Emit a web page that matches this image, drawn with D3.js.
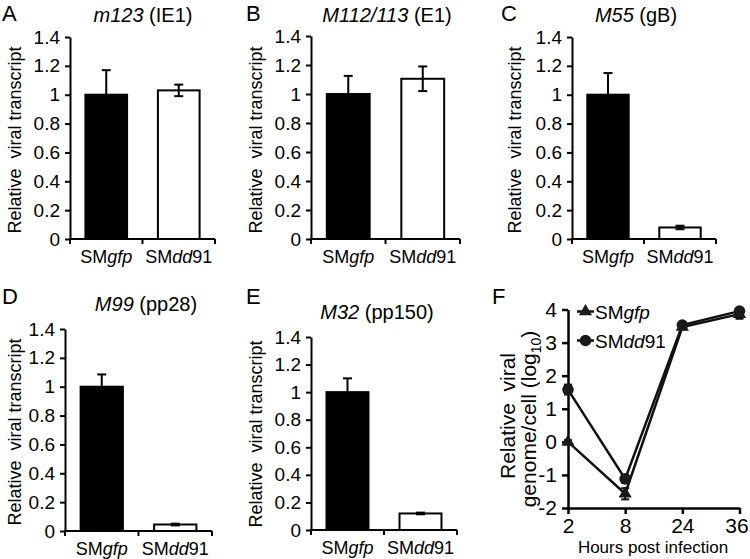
<!DOCTYPE html>
<html><head><meta charset="utf-8">
<script src="https://cdn.jsdelivr.net/npm/d3@7"></script>
<style>
body{margin:0;background:#fff}
svg{display:block;background:#fff}
text{font-family:"Liberation Sans", Arial, Helvetica, sans-serif;fill:#000}
</style>
</head><body>
<svg id="chart" width="750" height="559"></svg>
<script>
// ---------- data ----------
const categories = ["SMgfp", "SMdd91"];
const yTickValues = [0, 0.2, 0.4, 0.6, 0.8, 1, 1.2, 1.4];
const yTickLabels = ["0", "0.2", "0.4", "0.6", "0.8", "1", "1.2", "1.4"];
const panelLetters = ["A", "B", "C", "D", "E", "F"];
const geneNames = ["m123", "M112/113", "M55", "M99", "M32"];
const proteinNames = ["(IE1)", "(E1)", "(gB)", "(pp28)", "(pp150)"];
const meanA = [1.00, 1.03];  const errA = [0.17, 0.04];
const meanB = [1.00, 1.105]; const errB = [0.125, 0.085];
const meanC = [1.00, 0.08];  const errC = [0.15, 0.012];
const meanD = [1.00, 0.045]; const errD = [0.085, 0.006];
const meanE = [1.00, 0.12];  const errE = [0.10, 0.006];
const hours = ["2", "8", "24", "36"];
const genomeTicks = [-2, -1, 0, 1, 2, 3, 4];
const gfpGenome = [0.0, -1.57, 3.47, 3.86];
const gfpErr = [0.05, 0.17, 0.06, 0.14];
const dd91Genome = [1.58, -1.12, 3.53, 3.95];
const dd91Err = [0.15, 0.12, 0.05, 0.07];

// ---------- layout ----------
const barPanels = [
  {mean: meanA, err: errA, x0: 70,  x1: 215, yTop: 37,  yBot: 239, title: [143, 22], letter: [2, 21],   ylab: [21, 140]},
  {mean: meanB, err: errB, x0: 311, x1: 460, yTop: 36,  yBot: 239, title: [387, 22], letter: [246, 21], ylab: [262, 140]},
  {mean: meanC, err: errC, x0: 572, x1: 716, yTop: 37,  yBot: 239, title: [636, 22], letter: [501, 21], ylab: [521, 140]},
  {mean: meanD, err: errD, x0: 65,  x1: 212, yTop: 329, yBot: 531, title: [146, 311], letter: [2, 304], ylab: [21, 432]},
  {mean: meanE, err: errE, x0: 311, x1: 457, yTop: 337, yBot: 530, title: [377, 319], letter: [246, 304], ylab: [262, 434]}
];

const svg = d3.select("#chart");

function catLabel(sel, name) {
  const m = name.match(/^(SM)([a-z]+)(\d*)$/);
  sel.append("tspan").text(m[1]);
  sel.append("tspan").attr("font-style", "italic").text(m[2]);
  if (m[3]) sel.append("tspan").text(m[3]);
}

barPanels.forEach((p, i) => {
  const g = svg.append("g");
  const x = d3.scaleBand().domain(categories).range([p.x0, p.x1]).padding(0);
  const y = d3.scaleLinear().domain([0, 1.4]).range([p.yBot, p.yTop]);
  const bw = x.bandwidth() * 0.575;

  // bars
  g.selectAll("rect.bar").data(categories).enter().append("rect")
    .attr("x", d => x(d) + (x.bandwidth() - bw) / 2)
    .attr("y", (d, j) => y(p.mean[j]))
    .attr("width", bw)
    .attr("height", (d, j) => y(0) - y(p.mean[j]))
    .attr("fill", (d, j) => j === 0 ? "#000" : "#fff")
    .attr("stroke", "#000").attr("stroke-width", 2);

  // error bars
  categories.forEach((c, j) => {
    const cx = x(c) + x.bandwidth() / 2;
    const lo = y(p.mean[j] - p.err[j]), hi = y(p.mean[j] + p.err[j]);
    g.append("line").attr("x1", cx).attr("x2", cx).attr("y1", lo).attr("y2", hi)
      .attr("stroke", "#000").attr("stroke-width", 2);
    [lo, hi].forEach(yy => g.append("line").attr("x1", cx - 4.5).attr("x2", cx + 4.5)
      .attr("y1", yy).attr("y2", yy).attr("stroke", "#000").attr("stroke-width", 2));
  });

  // y axis
  const ya = g.append("g").attr("transform", `translate(${p.x0},0)`)
    .call(d3.axisLeft(y).tickValues(yTickValues).tickFormat((d, k) => yTickLabels[k]).tickSizeInner(5).tickSizeOuter(0).tickPadding(5));
  ya.select(".domain").attr("stroke-width", 2);
  ya.selectAll(".tick line").attr("stroke-width", 2);
  ya.selectAll(".tick text").attr("font-size", 19).attr("font-family", "Liberation Sans, Arial, sans-serif");

  // x axis (category boundaries)
  g.append("line").attr("x1", p.x0 - 1).attr("x2", p.x1).attr("y1", y(0)).attr("y2", y(0))
    .attr("stroke", "#000").attr("stroke-width", 2);
  const bounds = [x.range()[0], x(categories[1]), x.range()[1]];
  bounds.forEach(b => g.append("line").attr("x1", b).attr("x2", b).attr("y1", y(0)).attr("y2", y(0) + 5)
    .attr("stroke", "#000").attr("stroke-width", 2));
  categories.forEach(c => {
    const t = g.append("text").attr("x", x(c) + x.bandwidth() / 2).attr("y", y(0) + 24)
      .attr("text-anchor", "middle").attr("font-size", 18);
    catLabel(t, c);
  });

  // y label
  g.append("text").attr("transform", `translate(${p.ylab[0]},${p.ylab[1]}) rotate(-90)`)
    .attr("text-anchor", "middle").attr("font-size", 18)
    .style("white-space", "pre").text("Relative  viral transcript");

  // title
  const tt = g.append("text").attr("x", p.title[0]).attr("y", p.title[1]).attr("text-anchor", "middle").attr("font-size", 20);
  tt.append("tspan").attr("font-style", "italic").text(geneNames[i]);
  tt.append("tspan").text(" " + proteinNames[i]);

  // panel letter
  g.append("text").attr("x", p.letter[0]).attr("y", p.letter[1]).attr("font-size", 22).text(panelLetters[i]);
});

// ---------- panel F ----------
(function () {
  const g = svg.append("g");
  const x = d3.scalePoint().domain(hours).range([568, 739.5]);
  const y = d3.scaleLinear().domain([-2, 4]).range([508, 309.5]);

  const ya = g.append("g").attr("transform", "translate(568,0)")
    .call(d3.axisLeft(y).tickValues(genomeTicks).tickFormat(d => String(d)).tickSizeInner(6).tickSizeOuter(0).tickPadding(5));
  ya.select(".domain").attr("stroke-width", 2.5);
  ya.selectAll(".tick line").attr("stroke-width", 2.5);
  ya.selectAll(".tick text").attr("font-size", 21).attr("font-family", "Liberation Sans, Arial, sans-serif");

  const xa = g.append("g").attr("transform", "translate(0,508)")
    .call(d3.axisBottom(x).tickSizeInner(6).tickSizeOuter(0).tickPadding(4));
  xa.select(".domain").attr("stroke-width", 2.5);
  xa.selectAll(".tick line").attr("stroke-width", 2.5);
  xa.selectAll(".tick text").attr("font-size", 21).attr("font-family", "Liberation Sans, Arial, sans-serif")
    .attr("dx", (d, k) => k === hours.length - 1 ? -3 : 0);

  g.append("text").attr("x", 653).attr("y", 553).attr("text-anchor", "middle").attr("font-size", 17)
    .text("Hours post infection");

  g.append("text").attr("transform", "translate(515,416) rotate(-90)")
    .attr("text-anchor", "middle").attr("font-size", 21).style("white-space", "pre").text("Relative  viral");
  const yl2 = g.append("text").attr("transform", "translate(536,419) rotate(-90)")
    .attr("text-anchor", "middle").attr("font-size", 21);
  yl2.append("tspan").text("genome/cell (log");
  yl2.append("tspan").attr("font-size", 14).attr("dy", 5).text("10");
  yl2.append("tspan").attr("dy", -5).text(")");

  const line = d3.line().x((d, k) => x(hours[k])).y(d => y(d));
  const series = [
    {vals: gfpGenome, err: gfpErr, shape: "tri"},
    {vals: dd91Genome, err: dd91Err, shape: "circ"}
  ];
  const tri = d3.symbol().type(d3.symbolTriangle).size(75);

  series.forEach(s => {
    g.append("path").attr("d", line(s.vals)).attr("fill", "none").attr("stroke", "#111").attr("stroke-width", 2.5);
    s.vals.forEach((v, k) => {
      const cx = x(hours[k]);
      const lo = y(v - s.err[k]), hi = y(v + s.err[k]);
      g.append("line").attr("x1", cx).attr("x2", cx).attr("y1", lo).attr("y2", hi).attr("stroke", "#111").attr("stroke-width", 2);
      [lo, hi].forEach(yy => g.append("line").attr("x1", cx - 4).attr("x2", cx + 4).attr("y1", yy).attr("y2", yy)
        .attr("stroke", "#111").attr("stroke-width", 2));
    });
  });
  series.forEach(s => {
    s.vals.forEach((v, k) => {
      if (s.shape === "tri") {
        g.append("path").attr("d", tri()).attr("transform", `translate(${x(hours[k])},${y(v)})`).attr("fill", "#1a1a1a");
      } else {
        g.append("circle").attr("cx", x(hours[k])).attr("cy", y(v)).attr("r", 5.8).attr("fill", "#1a1a1a");
      }
    });
  });

  // legend
  const leg = [{name: "SMgfp", shape: "tri", y: 311.5}, {name: "SMdd91", shape: "circ", y: 340.5}];
  leg.forEach(l => {
    g.append("line").attr("x1", 577).attr("x2", 594).attr("y1", l.y).attr("y2", l.y).attr("stroke", "#111").attr("stroke-width", 2.5);
    if (l.shape === "tri") g.append("path").attr("d", tri()).attr("transform", `translate(585.5,${l.y})`).attr("fill", "#1a1a1a");
    else g.append("circle").attr("cx", 585.5).attr("cy", l.y).attr("r", 5.8).attr("fill", "#1a1a1a");
    const t = g.append("text").attr("x", 595).attr("y", l.y + 7).attr("font-size", 19);
    catLabel(t, l.name);
  });

  g.append("text").attr("x", 492).attr("y", 304).attr("font-size", 22).text(panelLetters[5]);
})();
</script>
</body></html>
